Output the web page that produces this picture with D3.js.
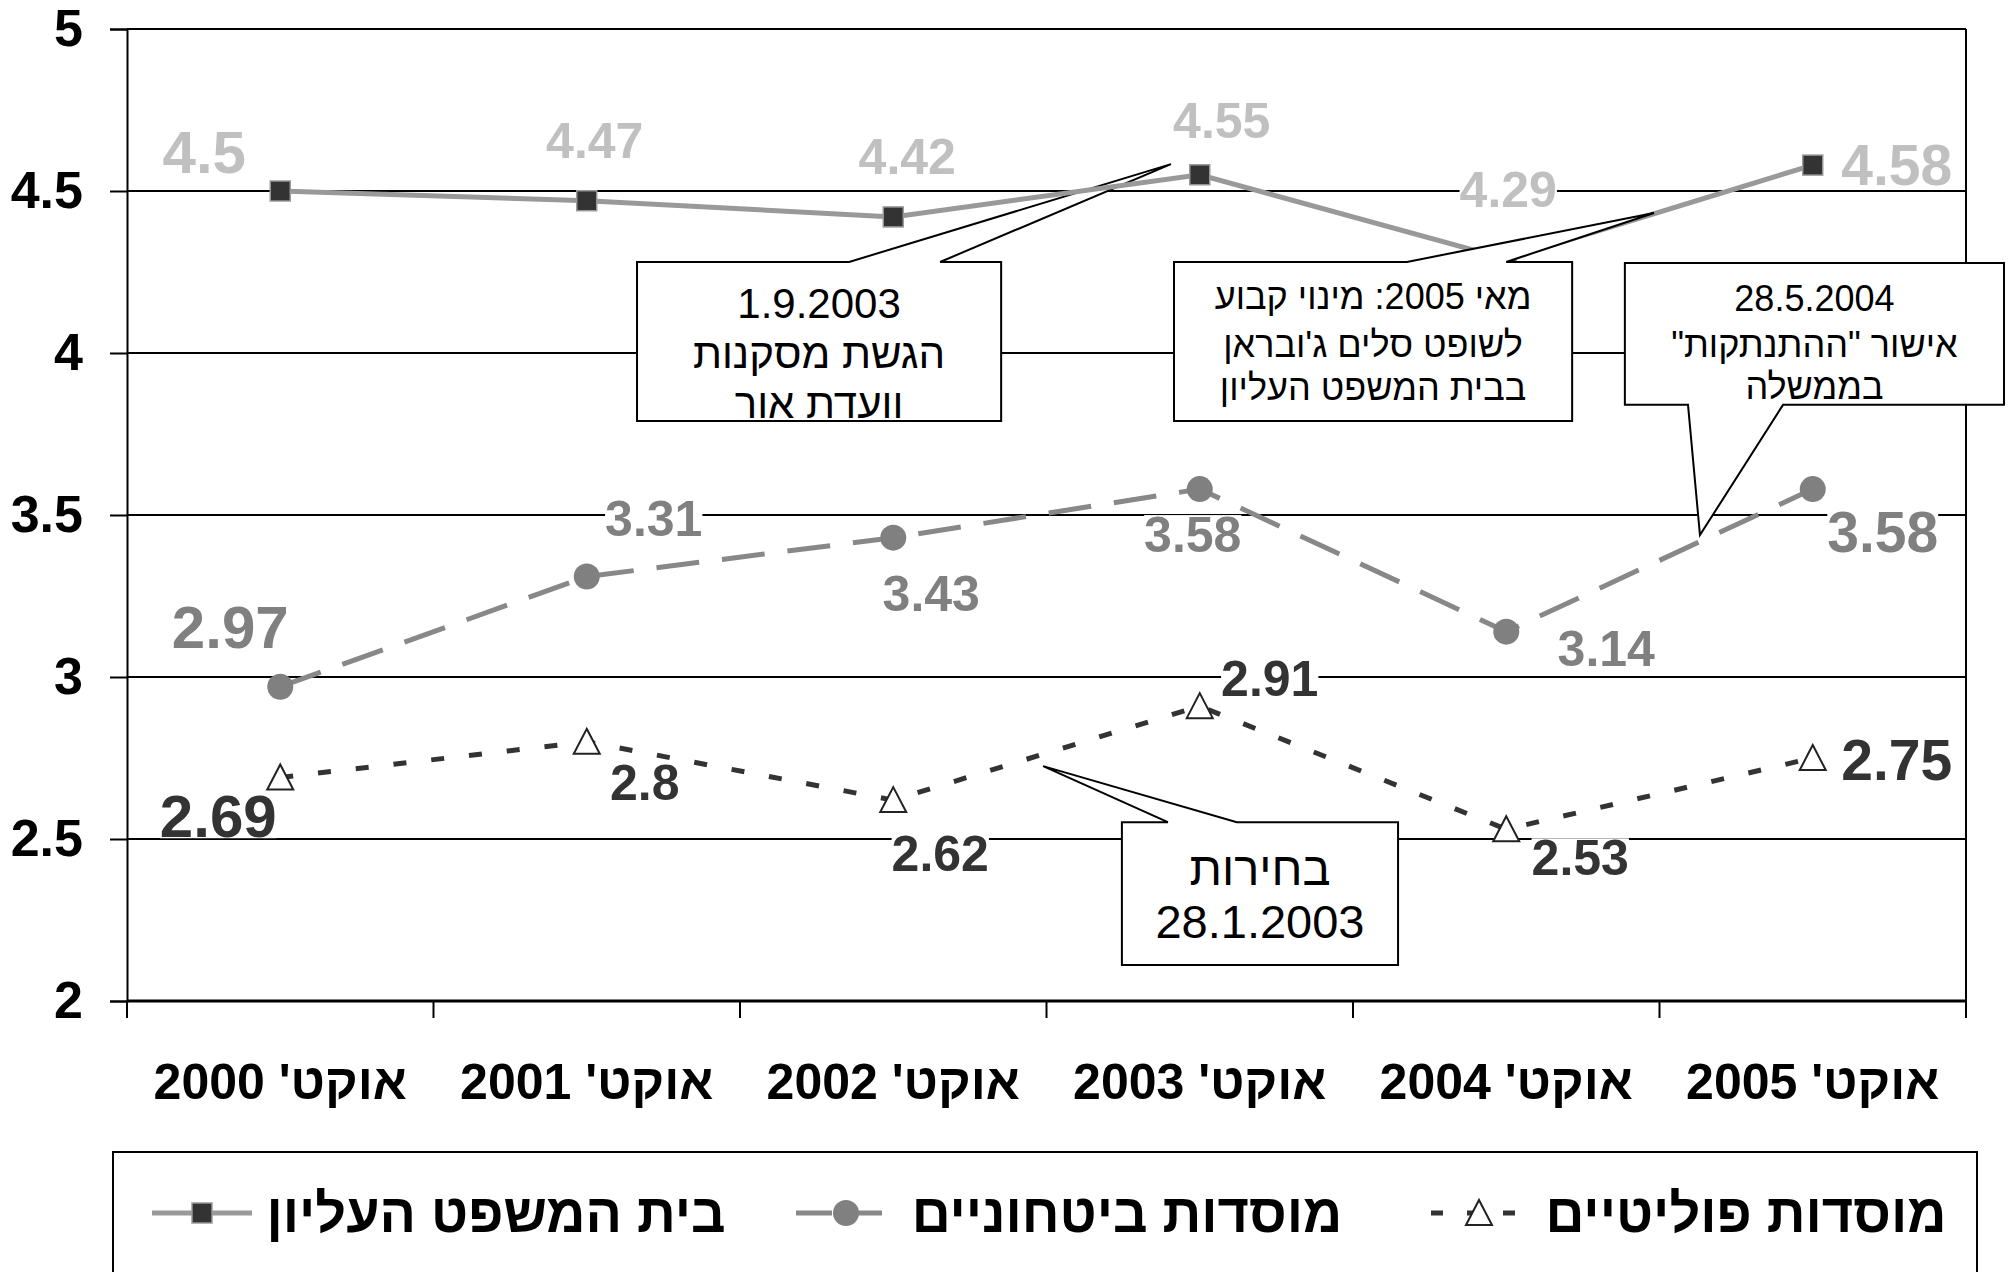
<!DOCTYPE html>
<html><head><meta charset="utf-8">
<script src="https://cdn.jsdelivr.net/npm/d3@7"></script>
<style>
body{margin:0;background:#fff}
svg{display:block}
text{font-family:"Liberation Sans",Arial,"DejaVu Sans",sans-serif}
</style>
</head><body>
<svg id="chart" width="2011" height="1272"></svg>
<script>
// ---------- data ----------
const categories = ["אוקט' 2000", "אוקט' 2001", "אוקט' 2002", "אוקט' 2003", "אוקט' 2004", "אוקט' 2005"];
const supremeCourt = [4.5, 4.47, 4.42, 4.55, 4.29, 4.58];
const securityInst = [2.97, 3.31, 3.43, 3.58, 3.14, 3.58];
const politicalInst = [2.69, 2.8, 2.62, 2.91, 2.53, 2.75];
const seriesNames = ["בית המשפט העליון", "מוסדות ביטחוניים", "מוסדות פוליטיים"];
const yTicks = [2, 2.5, 3, 3.5, 4, 4.5, 5];
const calloutTexts = [
  ["1.9.2003", "הגשת מסקנות", "וועדת אור"],
  ["מאי 2005: מינוי קבוע", "לשופט סלים ג'ובראן", "בבית המשפט העליון"],
  ["28.5.2004", "אישור \"ההתנתקות\"", "בממשלה"],
  ["בחירות", "28.1.2003"]
];

// ---------- layout ----------
const W = 2011, H = 1272;
const plot = {left: 127, right: 1966, top: 29, bottom: 1001};
const svg = d3.select("#chart");
svg.append("rect").attr("width", W).attr("height", H).attr("fill", "#fff");

const x = d3.scaleBand().domain(categories).range([plot.left, plot.right]).padding(0);
const y = d3.scaleLinear().domain([2, 5]).range([plot.bottom, plot.top]);
// position at (possibly fractional) category index
const xi = i => x(categories[0]) + (i + 0.5) * x.bandwidth();

// gridlines
svg.append("g").selectAll("line").data(yTicks).join("line")
  .attr("x1", plot.left).attr("x2", plot.right)
  .attr("y1", d => y(d)).attr("y2", d => y(d))
  .attr("stroke", "#000").attr("stroke-width", 2);

// y axis
const yAxis = svg.append("g").attr("transform", `translate(${plot.left},0)`)
  .call(d3.axisLeft(y).tickValues(yTicks).tickSize(17).tickPadding(27).tickFormat(d => String(d)));
yAxis.select(".domain").attr("stroke", "#000").attr("stroke-width", 2);
yAxis.selectAll(".tick line").attr("stroke", "#000").attr("stroke-width", 2);
yAxis.selectAll(".tick text").attr("font-size", 52).attr("font-weight", "bold").attr("fill", "#000")
  .attr("font-family", "'Liberation Sans',Arial,sans-serif");

// right frame
svg.append("line").attr("x1", plot.right).attr("x2", plot.right)
  .attr("y1", y(5)).attr("y2", y(2)).attr("stroke", "#000").attr("stroke-width", 2);

// x axis ticks at category boundaries
const boundaries = categories.map(c => x(c)).concat([plot.right]);
svg.append("g").selectAll("line").data(boundaries).join("line")
  .attr("x1", d => d).attr("x2", d => d)
  .attr("y1", y(2)).attr("y2", y(2) + 17)
  .attr("stroke", "#000").attr("stroke-width", 2);
svg.append("line").attr("x1", plot.left).attr("x2", plot.right)
  .attr("y1", y(2)).attr("y2", y(2)).attr("stroke", "#000").attr("stroke-width", 3);

svg.append("g").selectAll("text").data(categories).join("text")
  .attr("x", d => x(d) + x.bandwidth() / 2).attr("y", 1081)
  .attr("dy", "0.35em").attr("text-anchor", "middle").attr("direction", "rtl")
  .attr("font-size", 50).attr("font-weight", "bold").attr("fill", "#000")
  .text(d => d);

// ---------- callouts (shapes in data units) ----------
const callouts = [
  {box: [1.164, 2.352, 4.281, 3.790], side: "top", base: [1.856, 2.153], apex: [2.906, 4.583],
   text: calloutTexts[0], fs: 42, lines: [4.154, 4.0, 3.846]},
  {box: [2.916, 4.215, 4.281, 3.790], side: "top", base: [3.676, 4.0], apex: [4.482, 4.432],
   text: calloutTexts[1], fs: 36, lines: [4.176, 4.028, 3.895]},
  {box: [4.387, 5.624, 4.278, 3.840], side: "bottom", base: [4.593, 4.903], apex: [4.632, 3.438],
   text: calloutTexts[2], fs: 36, lines: [4.170, 4.028, 3.898]},
  {box: [2.746, 3.647, 2.552, 2.111], side: "top", base: [2.896, 3.121], apex: [2.489, 2.725],
   text: calloutTexts[3], fs: 47, lines: [2.410, 2.244]}
];
function calloutPath(c) {
  const [a0, a1, v0, v1] = c.box;
  const X0 = xi(a0), X1 = xi(a1), Y0 = y(v0), Y1 = y(v1);
  const B0 = xi(c.base[0]), B1 = xi(c.base[1]);
  const AX = xi(c.apex[0]), AY = y(c.apex[1]);
  if (c.side === "top")
    return `M${X0},${Y0}L${B0},${Y0}L${AX},${AY}L${B1},${Y0}L${X1},${Y0}L${X1},${Y1}L${X0},${Y1}Z`;
  return `M${X0},${Y0}L${X1},${Y0}L${X1},${Y1}L${B1},${Y1}L${AX},${AY}L${B0},${Y1}L${X0},${Y1}Z`;
}
function drawCallout(g, c) {
  g.append("path").attr("d", calloutPath(c)).attr("fill", "#fff")
    .attr("stroke", "#000").attr("stroke-width", 2).attr("stroke-linejoin", "miter");
  const cxm = (xi(c.box[0]) + xi(c.box[1])) / 2;
  g.selectAll(null).data(c.text).join("text")
    .attr("x", cxm).attr("y", (d, i) => y(c.lines[i])).attr("dy", "0.35em")
    .attr("text-anchor", "middle").attr("direction", "rtl")
    .attr("font-size", c.fs).attr("fill", "#000").text(d => d);
}

const calloutLayerLow = svg.append("g");
drawCallout(calloutLayerLow, callouts[0]);

// ---------- series ----------
const series = [
  {name: seriesNames[0], values: supremeCourt, line: "#999999", dash: null, label: "#c0c0c0", marker: "square"},
  {name: seriesNames[1], values: securityInst, line: "#888888", dash: "43,23", label: "#808080", marker: "circle"},
  {name: seriesNames[2], values: politicalInst, line: "#333333", dash: "13,25", label: "#333333", marker: "triangle"}
];
const lineGen = d3.line().x((d, i) => xi(i)).y(d => y(d));

const linesG = svg.append("g");
series.forEach(s => {
  linesG.append("path").attr("d", lineGen(s.values)).attr("fill", "none")
    .attr("stroke", s.line).attr("stroke-width", 5)
    .attr("stroke-dasharray", s.dash);
});

function drawMarker(g, type, px, py) {
  if (type === "square")
    g.append("rect").attr("x", px - 10).attr("y", py - 10).attr("width", 20).attr("height", 20)
      .attr("fill", "#333").attr("stroke", "#999").attr("stroke-width", 1.5);
  else if (type === "circle")
    g.append("circle").attr("cx", px).attr("cy", py).attr("r", 13).attr("fill", "#808080");
  else
    g.append("path").attr("d", `M${px},${py - 13}L${px + 13},${py + 12}L${px - 13},${py + 12}Z`)
      .attr("fill", "#fff").attr("stroke", "#222").attr("stroke-width", 2);
}
const markersG = svg.append("g");
series.forEach(s => s.values.forEach((v, i) => drawMarker(markersG, s.marker, xi(i), y(v))));

// callouts drawn above the lines
const calloutLayerHigh = svg.append("g");
[1, 2, 3].forEach(k => drawCallout(calloutLayerHigh, callouts[k]));

// ---------- value labels ----------
const labelNudge = [
  [[-76, -40], [8, -61], [14, -61], [22, -55], [2, -70], [84, -1]],
  [[-50, -60], [67, -59], [38, 55], [-7, 45], [100, 16], [70, 42]],
  [[-62, 38], [58, 40], [47, 53], [70, -28], [74, 28], [84, 1]]
];
const labelsG = svg.append("g");
series.forEach((s, si) => s.values.forEach((v, i) => {
  const fs = i === 0 ? 60 : (i === s.values.length - 1 ? 57 : 50);
  const g = labelsG.append("g");
  const bg = g.append("rect").attr("fill", "#fff");
  const t = g.append("text")
    .attr("x", xi(i) + labelNudge[si][i][0]).attr("y", y(v) + labelNudge[si][i][1])
    .attr("dy", "0.36em").attr("text-anchor", "middle")
    .attr("font-size", fs).attr("font-weight", "bold").attr("fill", s.label)
    .text(String(v));
  const bb = t.node().getBBox();
  const cyv = y(v) + labelNudge[si][i][1];
  bg.attr("x", bb.x).attr("width", bb.width).attr("y", cyv - fs * 0.38).attr("height", fs * 0.76);
}));

// ---------- legend ----------
const leg = svg.append("g");
leg.append("rect").attr("x", 113).attr("y", 1152).attr("width", 1864).attr("height", 200)
  .attr("fill", "#fff").attr("stroke", "#000").attr("stroke-width", 2);
const legItems = [
  {s: series[0], sym: 202, txt: 496},
  {s: series[1], sym: 846, txt: 1127},
  {s: series[2], sym: 1479, txt: 1746}
];
const legY = 1213;
legItems.forEach(it => {
  leg.append("line").attr("x1", it.sym - 50).attr("x2", it.sym + 50)
    .attr("y1", legY).attr("y2", legY).attr("stroke", it.s.line).attr("stroke-width", 5)
    .attr("stroke-dasharray", it.s.marker === "circle" ? "36,14" : (it.s.marker === "triangle" ? "12,24" : null))
    .attr("stroke-dashoffset", it.s.marker === "triangle" ? -2 : 0);
  drawMarker(leg, it.s.marker, it.sym, legY);
  leg.append("text").attr("x", it.txt).attr("y", legY).attr("dy", "0.35em")
    .attr("text-anchor", "middle").attr("direction", "rtl")
    .attr("font-size", 54).attr("font-weight", "bold").attr("fill", "#000")
    .text(it.s.name);
});
</script>
</body></html>
